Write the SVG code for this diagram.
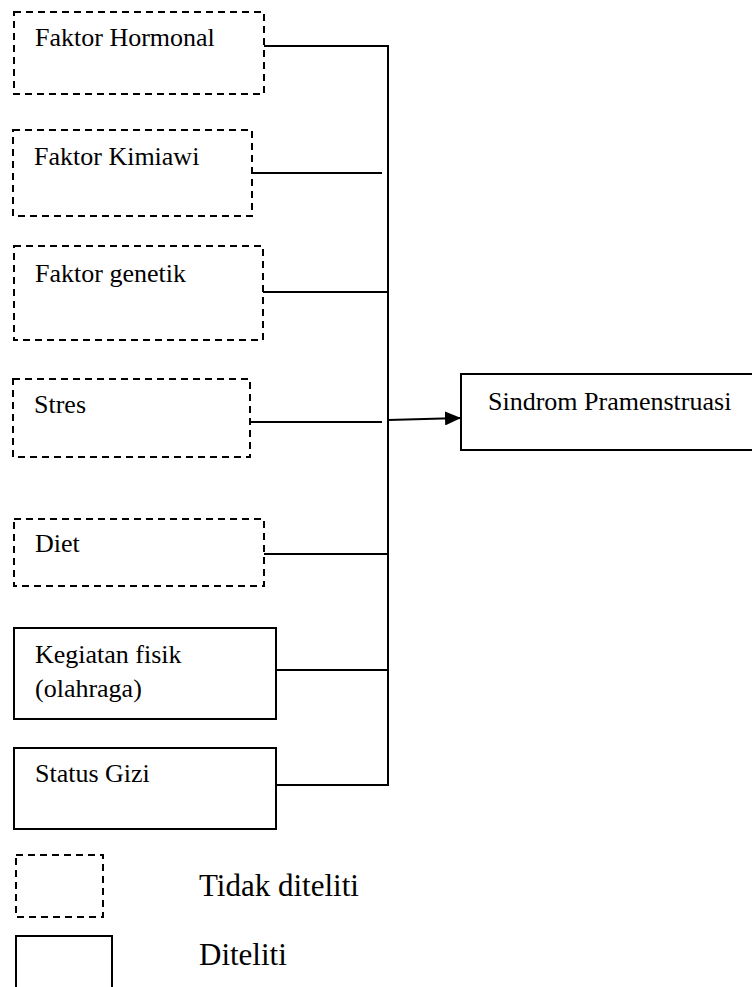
<svg xmlns="http://www.w3.org/2000/svg" width="752" height="987" viewBox="0 0 752 987">
<defs>
<style>
.box{fill:#fff;stroke:#000;stroke-width:2}
.dash{stroke-dasharray:7,5}
.lbl{font-family:"Liberation Serif","Times New Roman",serif;font-size:26px;fill:#000}
.leg{font-family:"Liberation Serif","Times New Roman",serif;font-size:31px;fill:#000}
.ln{stroke:#000;stroke-width:2;fill:none}
</style>
<marker id="ah" markerWidth="16" markerHeight="14" refX="16" refY="7" orient="auto" markerUnits="userSpaceOnUse">
<path d="M0,0 L16,7 L0,14 Z" fill="#000"/>
</marker>
</defs>
<rect width="752" height="987" fill="#fff"/>
<g id="connectors">
<path class="ln" d="M264,46 H388 V785 H276"/>
<line class="ln" x1="252" y1="173" x2="382" y2="173"/>
<line class="ln" x1="263" y1="292" x2="388" y2="292"/>
<line class="ln" x1="250" y1="422" x2="382" y2="422"/>
<line class="ln" x1="264" y1="554" x2="388" y2="554"/>
<line class="ln" x1="276" y1="670" x2="388" y2="670"/>
<line class="ln" x1="388" y1="420" x2="461" y2="418" marker-end="url(#ah)"/>
</g>
<g id="n-hormonal"><rect class="box dash" x="14" y="12" width="250" height="82"/><text class="lbl" x="35" y="46">Faktor Hormonal</text></g>
<g id="n-kimiawi"><rect class="box dash" x="13" y="130" width="239" height="86"/><text class="lbl" x="34" y="165">Faktor Kimiawi</text></g>
<g id="n-genetik"><rect class="box dash" x="14" y="246" width="249" height="94"/><text class="lbl" x="35" y="282">Faktor genetik</text></g>
<g id="n-stres"><rect class="box dash" x="13" y="379" width="237" height="78"/><text class="lbl" x="34" y="413">Stres</text></g>
<g id="n-diet"><rect class="box dash" x="14" y="519" width="250" height="67"/><text class="lbl" x="35" y="552">Diet</text></g>
<g id="n-kegiatan"><rect class="box" x="14" y="628" width="262" height="91"/><text class="lbl" x="35" y="663">Kegiatan fisik</text><text class="lbl" x="35" y="697">(olahraga)</text></g>
<g id="n-gizi"><rect class="box" x="14" y="748" width="262" height="81"/><text class="lbl" x="35" y="782">Status Gizi</text></g>
<g id="n-sindrom"><rect class="box" x="461" y="374" width="300" height="76"/><text class="lbl" x="488" y="410">Sindrom Pramenstruasi</text></g>
<g id="legend-tidak"><rect class="box dash" x="16" y="855" width="87" height="62"/><text class="leg" x="199" y="896">Tidak diteliti</text></g>
<g id="legend-diteliti"><rect class="box" x="16" y="936" width="96" height="60"/><text class="leg" x="199" y="965">Diteliti</text></g>
</svg>
